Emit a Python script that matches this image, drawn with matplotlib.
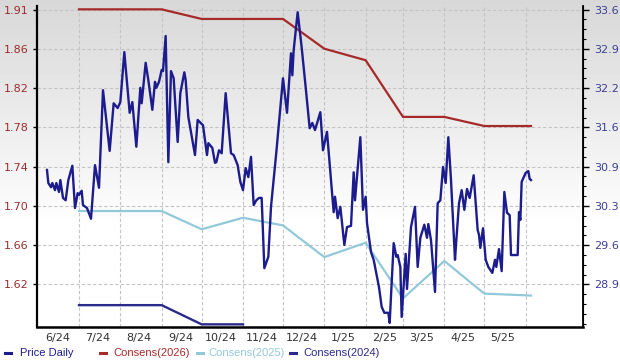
import numpy as np
import pandas as pd
import matplotlib
matplotlib.use('Agg')
import matplotlib.pyplot as plt
import matplotlib.dates as mdates
from matplotlib.lines import Line2D
from matplotlib.ticker import FixedLocator, AutoMinorLocator, NullFormatter, FixedFormatter

# ---- data ----
price_dates = [
    "2024-06-07", "2024-06-08", "2024-06-10", "2024-06-11", "2024-06-13", "2024-06-14",
    "2024-06-16", "2024-06-17", "2024-06-19", "2024-06-21", "2024-06-23", "2024-06-26",
    "2024-06-28", "2024-06-30", "2024-07-01", "2024-07-03", "2024-07-04", "2024-07-07",
    "2024-07-10", "2024-07-13", "2024-07-16", "2024-07-19", "2024-07-24", "2024-07-27",
    "2024-07-30", "2024-08-01", "2024-08-04", "2024-08-08", "2024-08-10", "2024-08-13",
    "2024-08-16", "2024-08-17", "2024-08-20", "2024-08-22", "2024-08-25", "2024-08-27",
    "2024-08-28", "2024-08-30", "2024-09-01", "2024-09-02", "2024-09-04", "2024-09-06",
    "2024-09-08", "2024-09-10", "2024-09-13", "2024-09-15", "2024-09-18", "2024-09-19",
    "2024-09-21", "2024-09-26", "2024-09-28", "2024-10-02", "2024-10-05", "2024-10-06",
    "2024-10-09", "2024-10-11", "2024-10-12", "2024-10-14", "2024-10-16", "2024-10-19",
    "2024-10-23", "2024-10-25", "2024-10-28", "2024-10-30", "2024-11-01", "2024-11-03",
    "2024-11-05", "2024-11-07", "2024-11-09", "2024-11-11", "2024-11-13", "2024-11-15",
    "2024-11-17", "2024-11-20", "2024-11-22", "2024-11-26", "2024-11-29", "2024-12-01",
    "2024-12-04", "2024-12-07", "2024-12-08", "2024-12-09", "2024-12-12", "2024-12-15",
    "2024-12-18", "2024-12-21", "2024-12-23", "2024-12-25", "2024-12-29", "2024-12-31",
    "2025-01-03", "2025-01-06", "2025-01-08", "2025-01-09", "2025-01-11", "2025-01-13",
    "2025-01-16", "2025-01-18", "2025-01-21", "2025-01-23", "2025-01-24", "2025-01-28",
    "2025-01-30", "2025-02-01", "2025-02-02", "2025-02-05", "2025-02-07", "2025-02-11",
    "2025-02-13", "2025-02-15", "2025-02-18", "2025-02-19", "2025-02-22", "2025-02-24",
    "2025-02-25", "2025-02-27", "2025-02-28", "2025-03-03", "2025-03-04", "2025-03-07",
    "2025-03-10", "2025-03-12", "2025-03-14", "2025-03-17", "2025-03-19", "2025-03-20",
    "2025-03-22", "2025-03-25", "2025-03-27", "2025-03-29", "2025-03-31", "2025-04-02",
    "2025-04-04", "2025-04-06", "2025-04-09", "2025-04-10", "2025-04-12", "2025-04-14",
    "2025-04-16", "2025-04-18", "2025-04-20", "2025-04-23", "2025-04-25", "2025-04-26",
    "2025-04-27", "2025-04-28", "2025-04-30", "2025-05-02", "2025-05-04", "2025-05-07",
    "2025-05-09", "2025-05-10", "2025-05-12", "2025-05-14", "2025-05-16", "2025-05-18",
    "2025-05-20", "2025-05-21", "2025-05-26", "2025-05-27", "2025-05-28", "2025-05-29",
    "2025-06-01", "2025-06-03", "2025-06-04", "2025-06-05",
]
price_values = [
    30.86, 30.64, 30.57, 30.64, 30.52, 30.64,
    30.49, 30.69, 30.39, 30.35, 30.69, 30.93,
    30.22, 30.47, 30.44, 30.51, 30.27, 30.22,
    30.04, 30.94, 30.56, 32.20, 31.18, 31.98,
    31.90, 32.00, 32.84, 31.82, 32.00, 31.25,
    32.24, 31.98, 32.66, 32.37, 31.87, 32.34,
    32.24, 32.34, 32.54, 32.52, 33.11, 30.99,
    32.52, 32.40, 31.33, 32.15, 32.50, 32.37,
    31.75, 31.11, 31.70, 31.61, 31.11, 31.31,
    31.23, 30.98, 30.99, 31.19, 31.14, 32.15,
    31.14, 31.11, 30.94, 30.66, 30.52, 30.89,
    30.74, 31.08, 30.27, 30.35, 30.39, 30.39,
    29.21, 29.40, 30.24, 31.16, 31.90, 32.40,
    31.82, 32.82, 32.45, 32.87, 33.51, 32.92,
    32.25, 31.56, 31.65, 31.53, 31.83, 31.19,
    31.50, 30.69, 30.15, 30.41, 30.05, 30.24,
    29.60, 29.90, 29.92, 30.82, 30.35, 31.41,
    30.19, 30.41, 29.97, 29.48, 29.35, 28.89,
    28.56, 28.46, 28.46, 28.29, 29.63, 29.40,
    29.43, 29.23, 28.39, 29.45, 28.86, 29.90,
    30.24, 29.23, 29.72, 29.94, 29.72, 29.95,
    29.68, 28.81, 30.30, 30.35, 30.91, 30.64,
    31.41, 30.69, 29.35, 29.68, 30.30, 30.52,
    30.19, 30.54, 30.39, 30.77, 30.14, 29.85,
    29.77, 29.55, 29.88, 29.35, 29.23, 29.13,
    29.35, 29.23, 29.53, 29.16, 30.49, 30.14,
    30.10, 29.43, 29.43, 30.15, 30.02, 30.66,
    30.81, 30.84, 30.71, 30.69,
]

cons_dates = ["2024-07-01", "2024-08-01", "2024-09-01", "2024-10-01", "2024-11-01",
              "2024-12-01", "2025-01-01", "2025-02-01", "2025-03-01", "2025-04-01",
              "2025-05-01", "2025-06-05"]
cons_2026 = [1.906, 1.906, 1.906, 1.896, 1.896, 1.896, 1.865, 1.853, 1.794, 1.794, 1.7845, 1.7845]
cons_2025 = [1.696, 1.696, 1.696, 1.677, 1.689, 1.681, 1.648, 1.663, 1.605, 1.644, 1.610, 1.608]
cons_2024_dates = ["2024-07-01", "2024-08-01", "2024-09-01", "2024-10-01", "2024-11-01"]
cons_2024 = [1.598, 1.598, 1.598, 1.578, 1.578]

left_tick_labels = ["1.62", "1.66", "1.70", "1.74", "1.78", "1.82", "1.86", "1.91"]
right_tick_labels = ["28.9", "29.6", "30.3", "30.9", "31.6", "32.2", "32.9", "33.6"]
month_labels = ["6/24", "7/24", "8/24", "9/24", "10/24", "11/24", "12/24",
                "1/25", "2/25", "3/25", "4/25", "5/25"]
legend_labels = ["Price Daily", "Consens(2026)", "Consens(2025)", "Consens(2024)"]

c_price = '#1c1c8e'
c_2026 = '#a62a2a'
c_2025 = '#92c9d9'
c_2024 = '#2a2a8c'

W, H = 620, 362
fig = plt.figure(figsize=(W / 100, H / 100), dpi=100)

# grey-to-white background gradient
bg = fig.add_axes([0, 0, 1, 1])
shade = np.clip(0.845 + 0.155 * np.arange(H) / 230, 0, 1)
bg.imshow(np.repeat(shade[:, None], 2, axis=1), cmap='gray', vmin=0, vmax=1,
          aspect='auto', extent=[0, 1, 0, 1])
bg.axis('off')

ax = fig.add_axes([37 / W, 1 - 327 / H, 546 / W, 321 / H])
ax.patch.set_visible(False)
ax2 = ax.twinx()
ax2.patch.set_visible(False)

cd = pd.to_datetime(cons_dates)
ax.plot(cd, cons_2026, color=c_2026, lw=1.6)
ax.plot(cd, cons_2025, color=c_2025, lw=1.6)
ax.plot(pd.to_datetime(cons_2024_dates), cons_2024, color=c_2024, lw=1.7)
ax2.plot(pd.to_datetime(price_dates), price_values, color=c_price, lw=1.7)

# axis ranges: both axes share the same tick rows
t_lo, t_hi = -1.082, 7.09
l0, ld = 1.6195, 0.0409
r0, rd = 28.935, 0.66
ax.set_ylim(l0 + ld * t_lo, l0 + ld * t_hi)
ax2.set_ylim(r0 + rd * t_lo, r0 + rd * t_hi)
ax.set_xlim(pd.Timestamp("2024-05-30 12:00"), pd.Timestamp("2025-07-14"))

ax.yaxis.set_major_locator(FixedLocator([l0 + ld * i for i in range(8)]))
ax.yaxis.set_major_formatter(FixedFormatter(left_tick_labels))
ax2.yaxis.set_major_locator(FixedLocator([r0 + rd * i for i in range(8)]))
ax2.yaxis.set_major_formatter(FixedFormatter(right_tick_labels))
ax2.yaxis.set_minor_locator(AutoMinorLocator(4))

# gridlines at month starts, labels mid-month
month_starts = pd.date_range("2024-07-01", "2025-06-01", freq="MS")
mid_months = pd.date_range("2024-06-01", "2025-05-01", freq="MS") + pd.Timedelta(days=14)
ax.xaxis.set_major_locator(FixedLocator(mdates.date2num(month_starts)))
ax.xaxis.set_major_formatter(NullFormatter())
ax.xaxis.set_minor_locator(FixedLocator(mdates.date2num(mid_months)))
ax.xaxis.set_minor_formatter(FixedFormatter(month_labels))

ax.grid(True, which='major', color='#c4c4c4', lw=0.8, ls=(0, (3, 2)))

for a in (ax, ax2):
    a.spines['top'].set_visible(False)
ax.spines['left'].set_linewidth(1.6)
ax.spines['bottom'].set_linewidth(1.8)
ax2.spines['right'].set_linewidth(1.3)
ax2.spines['left'].set_visible(False)
ax2.spines['bottom'].set_visible(False)

ax.tick_params(axis='x', which='both', length=0, labelsize=8, labelcolor='#333333', pad=4)
ax.tick_params(axis='y', length=3, width=1, labelsize=8, labelcolor='#9a2c2c', pad=3)
ax2.tick_params(axis='y', which='major', length=4, width=1, labelsize=8,
                labelcolor='#3e3e98', pad=4)
ax2.tick_params(axis='y', which='minor', length=2.5, width=0.8)

# legend row along the bottom
leg_colors = [c_price, c_2026, c_2025, c_2024]
mark_x = [8, 103, 200, 293]
text_x = [20, 113, 208, 303]
ly = 1 - 353 / H
for lab, col, mx, tx in zip(legend_labels, leg_colors, mark_x, text_x):
    fig.add_artist(Line2D([(mx - 3) / W, (mx + 3) / W], [ly, ly], color=col, lw=2.2))
    fig.text(tx / W, ly, lab, color=col, fontsize=8, family='Liberation Sans',
             va='center', ha='left')

fig.savefig('out.png', dpi=100)
